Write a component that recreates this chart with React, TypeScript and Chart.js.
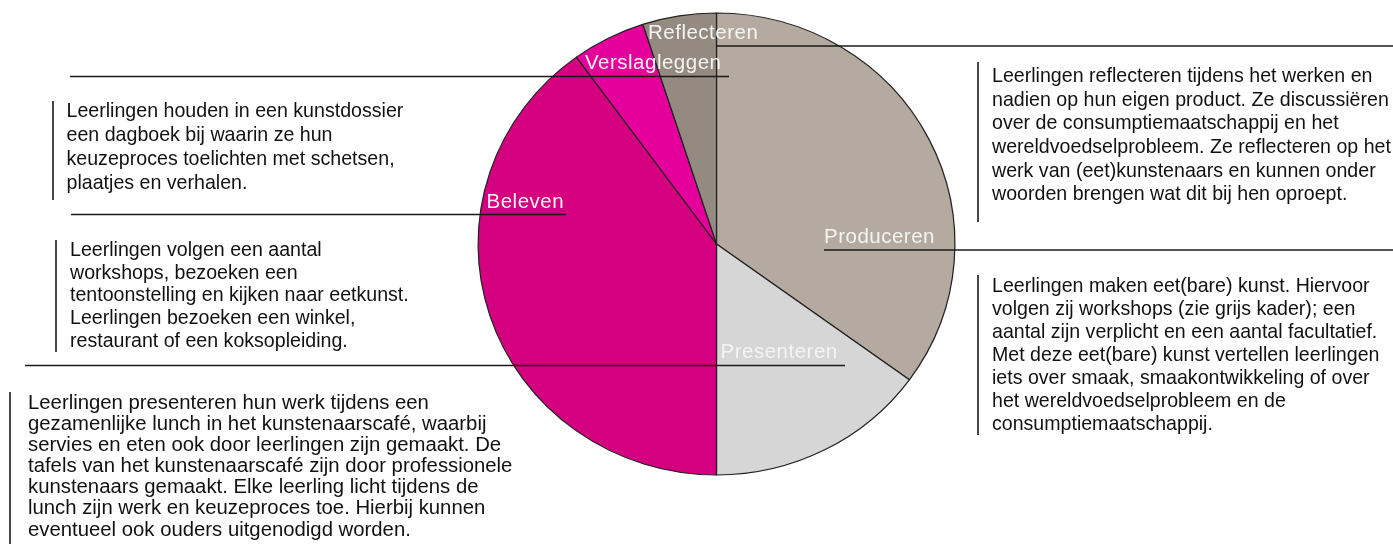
import React, { useEffect, useRef } from "react";
import { Chart, registerables } from "chart.js";

Chart.register(...registerables);

// ---- data ----
const labels = ["Produceren", "Presenteren", "Beleven", "Verslagleggen", "Reflecteren"];
const values = [35, 15, 40, 5, 5];
const colors = ["#b4aa9f", "#d5d6d5", "#d40080", "#e6009b", "#948a7f"];

const verslagText = [
  "Leerlingen houden in een kunstdossier",
  "een dagboek bij waarin ze hun",
  "keuzeproces toelichten met schetsen,",
  "plaatjes en verhalen.",
];
const belevenText = [
  "Leerlingen volgen een aantal",
  "workshops, bezoeken een",
  "tentoonstelling en kijken naar eetkunst.",
  "Leerlingen bezoeken een winkel,",
  "restaurant of een koksopleiding.",
];
const presenterenText = [
  "Leerlingen presenteren hun werk tijdens een",
  "gezamenlijke lunch in het kunstenaarscafé, waarbij",
  "servies en eten ook door leerlingen zijn gemaakt. De",
  "tafels van het kunstenaarscafé zijn door professionele",
  "kunstenaars gemaakt. Elke leerling licht tijdens de",
  "lunch zijn werk en keuzeproces toe. Hierbij kunnen",
  "eventueel ook ouders uitgenodigd worden.",
];
const reflecterenText = [
  "Leerlingen reflecteren tijdens het werken en",
  "nadien op hun eigen product. Ze discussiëren",
  "over de consumptiemaatschappij en het",
  "wereldvoedselprobleem. Ze reflecteren op het",
  "werk van (eet)kunstenaars en kunnen onder",
  "woorden brengen wat dit bij hen oproept.",
];
const producerenText = [
  "Leerlingen maken eet(bare) kunst. Hiervoor",
  "volgen zij workshops (zie grijs kader); een",
  "aantal zijn verplicht en een aantal facultatief.",
  "Met deze eet(bare) kunst vertellen leerlingen",
  "iets over smaak, smaakontwikkeling of over",
  "het wereldvoedselprobleem en de",
  "consumptiemaatschappij.",
];

// ---- layout (positions / sizes / styles) ----
const W = 1393;
const H = 544;
const CX = 716.5;
const CY = 244;
const RADIUS = 231;
const X_STRETCH = 1.032;
const FONT = '"Liberation Sans", Arial, sans-serif';

// label offsets from pie centre (left x, middle y)
const labelOffsets = [
  [107.5, -7],
  [4, 108],
  [-230, -42],
  [-131.5, -181],
  [-68.5, -211],
];

const hLines = [
  [716, 46, W, 46],
  [70, 76.5, 729, 76.5],
  [71, 214.5, 566, 214.5],
  [824, 250, W, 250],
  [25, 365.5, 845, 365.5],
];
const vBars = [
  [53, 101, 53, 200],
  [56, 240, 56, 352],
  [10, 392, 10, 544],
  [978, 62, 978, 222],
  [978, 275, 978, 435],
];

// approximate rendered widths of each block's lines in the reference (for font fitting)
const blocks = [
  { lines: verslagText, x: 66.5, y: 111.7, lh: 23.9, widths: [338, 267, 330, 177] },
  { lines: belevenText, x: 70, y: 250.7, lh: 22.6, widths: [252, 228, 338, 287, 277] },
  { lines: presenterenText, x: 28, y: 403.3, lh: 21.1, widths: [417, 472, 470, 474, 459, 461, 355] },
  { lines: reflecterenText, x: 992, y: 76.7, lh: 23.6, widths: [381, 398, 348, 398, 383, 356] },
  { lines: producerenText, x: 992, y: 286.7, lh: 23.0, widths: [381, 365, 383, 388, 376, 293, 221] },
];

const ellipsePlugin = {
  id: "ellipseStretch",
  beforeDatasetsDraw(chart: any) {
    const arc = chart.getDatasetMeta(0).data[0];
    const ctx = chart.ctx;
    ctx.save();
    ctx.translate(arc.x, arc.y);
    ctx.scale(X_STRETCH, 1);
    ctx.translate(-arc.x, -arc.y);
  },
  afterDatasetsDraw(chart: any) {
    chart.ctx.restore();
  },
};

const annotationPlugin = {
  id: "annotations",
  afterDraw(chart: any) {
    const ctx = chart.ctx as CanvasRenderingContext2D;
    const arc = chart.getDatasetMeta(0).data[0];
    ctx.save();

    // lines
    ctx.strokeStyle = "#1a1a1a";
    ctx.lineWidth = 1.6;
    hLines.concat(vBars).forEach(([x1, y1, x2, y2]) => {
      ctx.beginPath();
      ctx.moveTo(x1, y1);
      ctx.lineTo(x2, y2);
      ctx.stroke();
    });

    // slice labels
    ctx.fillStyle = "#f4f4f4";
    ctx.font = `20.5px ${FONT}`;
    (ctx as any).letterSpacing = "0.5px";
    ctx.textBaseline = "middle";
    ctx.textAlign = "left";
    labels.forEach((lab, i) => {
      const [dx, dy] = labelOffsets[i];
      ctx.fillText(lab, arc.x + dx, arc.y + dy);
    });

    // text blocks
    ctx.fillStyle = "#111";
    (ctx as any).letterSpacing = "0px";
    blocks.forEach((b) => {
      ctx.font = `20px ${FONT}`;
      let m = 0;
      let t = 0;
      b.lines.forEach((ln, i) => {
        m += ctx.measureText(ln).width;
        t += b.widths[i];
      });
      const size = (20 * t) / m;
      ctx.font = `${size.toFixed(2)}px ${FONT}`;
      b.lines.forEach((ln, i) => {
        ctx.fillText(ln, b.x, b.y + i * b.lh);
      });
    });
    ctx.restore();
  },
};

export default function App() {
  const ref = useRef<HTMLCanvasElement | null>(null);
  useEffect(() => {
    document.body.style.margin = "0";
    if (!ref.current) return;
    const chart = new Chart(ref.current, {
      type: "pie",
      data: {
        labels,
        datasets: [
          {
            data: values,
            backgroundColor: colors,
            borderColor: "#222",
            borderWidth: 1.2,
          },
        ],
      },
      options: {
        responsive: false,
        animation: false,
        radius: RADIUS,
        rotation: 0,
        layout: {
          padding: {
            left: CX - 300,
            right: W - (CX + 300),
            top: CY - 244,
            bottom: H - (CY + 244),
          },
        },
        plugins: {
          legend: { display: false },
          tooltip: { enabled: false },
        },
      } as any,
      plugins: [ellipsePlugin, annotationPlugin],
    });
    return () => chart.destroy();
  }, []);
  return (
    <div style={{ position: "absolute", left: 0, top: 0, width: W, height: H, background: "#fff" }}>
      <canvas ref={ref} width={W} height={H} style={{ display: "block" }} />
    </div>
  );
}
